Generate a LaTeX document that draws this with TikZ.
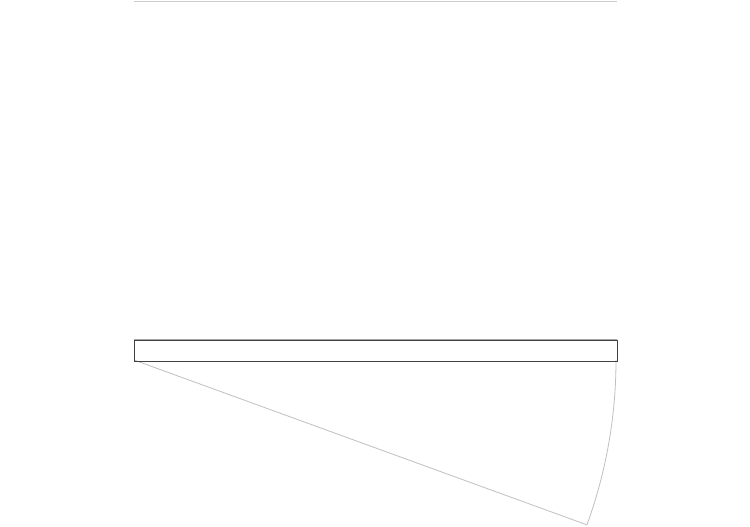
\documentclass[tikz,border=0pt]{standalone}
\begin{document}
\begin{tikzpicture}[x=1pt,y=-1pt,
  rule/.style={draw=black!20,line width=1.2pt},
  sectorline/.style={draw=black!25,line width=0.8pt},
  barbox/.style={draw=black!75,line width=0.9pt}]
\useasboundingbox (0,0) rectangle (750,527);
\coordinate (ctr) at (134,360);
\coordinate (arcA) at (616,360);
\coordinate (arcB) at ({134+482*cos(20)},{360+482*sin(20)});
\draw[rule] (133.5,1.2) -- (616.5,1.2);
\draw[sectorline] (ctr) -- (arcB) arc[start angle=20,end angle=0,radius=482];
\node[barbox,minimum width=483pt,minimum height=21pt,inner sep=0pt,anchor=north west] (bar) at (133.5,339.5) {};
\draw[draw=black!35,line width=0.9pt] (bar.north west) -- (bar.north east);
\end{tikzpicture}
\end{document}
